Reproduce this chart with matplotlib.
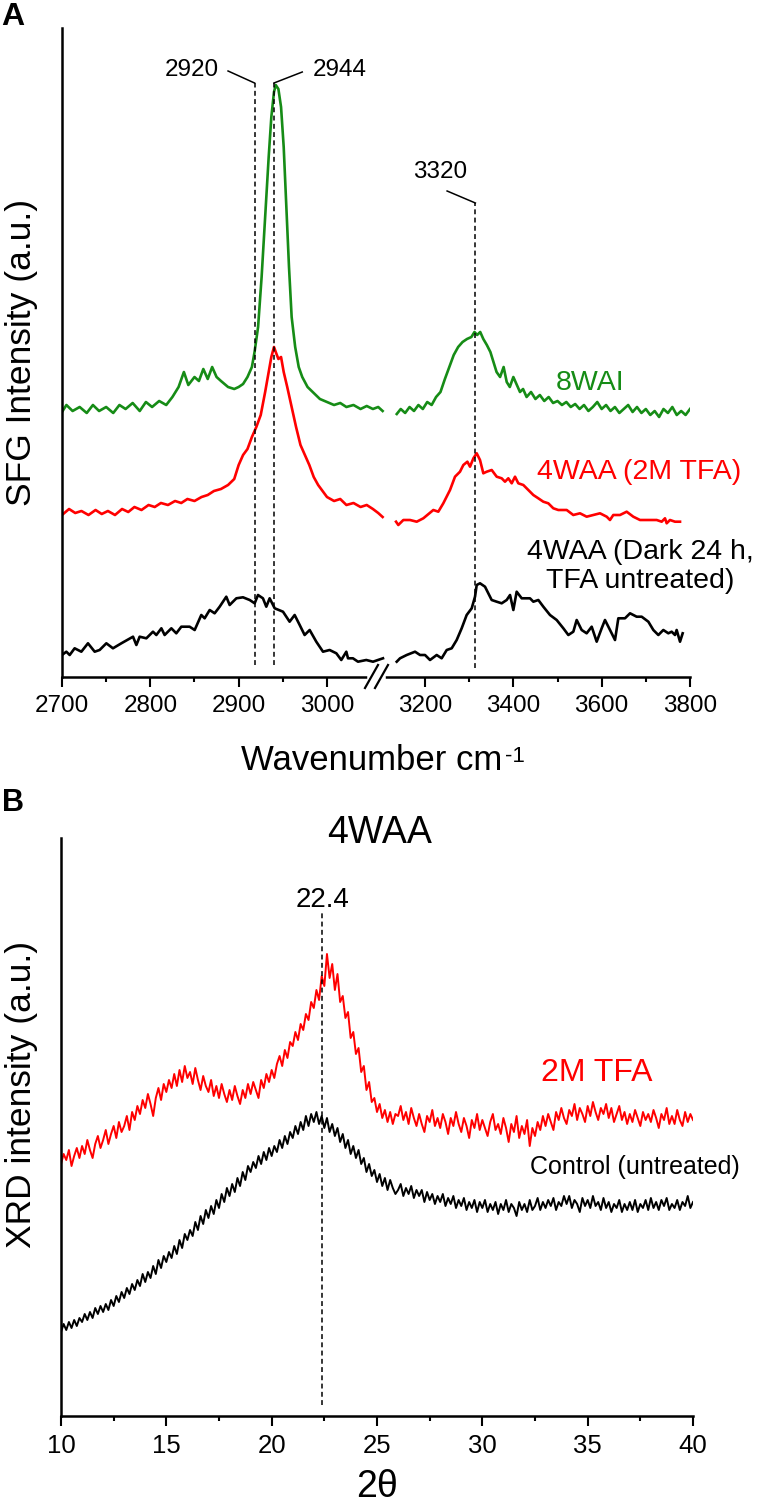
import numpy as np
import matplotlib
matplotlib.use('Agg')
import matplotlib.pyplot as plt
import matplotlib.ticker as mticker
from matplotlib.lines import Line2D

# ---------------- DATA ----------------
# Panel A (SFG): wavenumber / intensity (a.u.), left and right of axis break
green_L_x = [2700,2705,2712,2720,2728,2735,2742,2750,2758,2765,2772,2780,2788,2795,2802,2810,2818,2825,2832,2838,2843,2850,2855,2860,2865,2870,2875,2880,2888,2895,2900,2905,2910,2915,2918,2922,2926,2930,2934,2937,2940,2942,2945,2948,2951,2954,2957,2960,2964,2968,2972,2978,2985,2992,3000,3008,3015,3022,3030,3038,3045,3052,3058,3063]
green_L_y = [265,272,266,270,264,272,266,270,264,272,268,274,266,275,270,276,272,280,290,305,292,300,296,308,298,310,300,296,290,288,290,293,300,310,325,350,400,460,520,560,585,592,588,570,530,470,410,360,330,310,300,290,284,278,275,272,274,270,272,268,271,268,270,266]
green_R_x = [3136,3145,3155,3165,3175,3185,3195,3205,3215,3225,3235,3245,3255,3265,3275,3285,3295,3305,3312,3318,3325,3332,3340,3348,3355,3362,3370,3378,3385,3392,3400,3408,3415,3422,3430,3440,3450,3460,3470,3480,3490,3500,3510,3520,3530,3540,3550,3560,3570,3580,3590,3600,3610,3620,3630,3640,3650,3660,3670,3680,3690,3700,3710,3720,3730,3740,3750,3760,3770,3780,3790,3800]
green_R_y = [263,268,264,270,266,272,268,275,272,280,285,298,310,322,330,335,338,340,345,342,345,338,332,325,315,305,300,310,295,290,300,292,285,288,280,285,278,282,276,280,274,276,272,275,270,273,268,272,266,270,275,268,272,266,270,264,268,272,265,270,264,268,262,266,260,268,264,270,262,266,262,268]

red_L_x = [2700,2708,2715,2722,2730,2738,2745,2752,2760,2768,2775,2782,2790,2798,2805,2812,2820,2828,2835,2842,2850,2858,2865,2872,2880,2888,2895,2900,2905,2910,2915,2920,2925,2930,2934,2937,2940,2942,2945,2948,2951,2955,2960,2965,2970,2975,2980,2985,2990,2995,3000,3008,3015,3022,3030,3038,3045,3052,3058,3063]
red_L_y = [162,168,164,166,162,167,163,166,162,168,165,170,167,172,170,174,172,176,174,178,176,180,182,186,188,192,198,212,222,228,240,250,262,285,305,320,330,325,318,320,305,290,270,250,232,222,212,200,192,186,180,176,178,172,174,170,172,168,164,160]
red_R_x = [3132,3139.5,3150.9,3166,3181.2,3196.2,3218.8,3230.1,3241.4,3256.6,3267.9,3279.2,3286.8,3295.9,3301.9,3309.5,3317,3324.5,3332,3339.7,3351,3362.3,3373.6,3381.1,3388.6,3396.3,3403.8,3411.2,3422.6,3433.9,3445.2,3456.5,3467.8,3479.1,3490.5,3501.8,3520.8,3535.7,3550.9,3566,3581,3596.2,3611.4,3618.8,3626.3,3641.5,3656.6,3671.6,3686.8,3702,3724.6,3735.9,3743.4,3747.2,3754.7,3766,3777.4]
red_R_y = [155.3,152,157,157,155.3,158.7,167,165.3,173.7,187,200.3,205.3,212,215.3,210.3,218.7,223.7,217,203.7,205.3,207,200.3,198.7,195.3,198.7,193.7,200.3,193.7,192,187,182,178.7,175.3,173.7,168.7,167,167,162,163.7,160.3,162,163.7,160.3,157,162,162,165.3,160.3,157,157,157,155.3,158.7,153.7,157,155.3,155.3]

black_L_x = [2700,2704.9,2708.7,2714.3,2721.9,2729.4,2737,2742.6,2750.2,2757.7,2767.2,2780.4,2784.2,2787.9,2795.5,2803,2806.8,2812.5,2816.2,2823.8,2829.4,2835.1,2844.5,2850.2,2857.7,2861.5,2867.2,2872.8,2878.5,2886,2889.8,2897.4,2904.9,2912.5,2918.1,2921.9,2927.5,2931.3,2935.1,2940.8,2950.2,2957.7,2963.4,2969.1,2974.7,2980.4,2987.9,2995.5,3003,3010.6,3016.2,3021.9,3023.8,3029.4,3035.1,3044.5,3052.1,3057.7,3063.4]
black_L_y = [22,25.3,22,28.7,25.3,33.7,25.3,27,33.7,28.7,33.7,40.3,32,40.3,38.7,45.3,42,48.7,42,48.7,43.7,50.3,50.3,47,62,58.7,67,63.7,70.3,80.3,72,78.7,79.7,77,73.7,82,78.7,70.3,78.7,68.7,65.3,55.3,62,52,42,47,35.3,25.3,27,23.7,17,25.3,18.7,18.7,15.3,17,15.3,17,18.7]
black_R_x = [3135.8,3143.4,3158.5,3177.4,3188.7,3200,3211.3,3226.4,3237.7,3249.1,3260.4,3271.7,3283,3294.3,3305.7,3313.2,3317,3324.5,3335.8,3350.9,3362.3,3373.6,3384.9,3392.5,3400,3407.5,3418.9,3437.7,3445.3,3456.6,3467.9,3483,3498.1,3513.2,3524.5,3535.8,3543.4,3554.7,3566,3577.4,3588.7,3600,3607.5,3618.9,3630.2,3637.7,3652.8,3664.2,3679.2,3690.6,3705.7,3717,3728.3,3739.6,3750.9,3758.5,3766,3769.8,3777.4,3783.4]
black_R_y = [15.3,18.7,22,25.3,22,22,17,22,18.7,27,28.7,37,48.7,62,68.7,80.3,92,93.7,90.3,77,75.3,73.7,77,82,67,85.3,78.7,78.7,75.3,77,70.3,62,57,48.7,42,45.3,57,47,43.7,50.3,35.3,48.7,57,47,37,58.7,58.7,63.7,60.3,60.3,55.3,47,42,47,43.7,45.3,42,47,35.3,43.7]

sfg_major = [2700, 2800, 2900, 3000, 3200, 3400, 3600, 3800]
sfg_minor = [2750, 2850, 2950, 3300, 3500, 3700]
sfg_peaks = [2918, 2940, 3314]
sfg_peak_labels = ['2920', '2944', '3320']

# Panel B (XRD), 2theta from 10 to 40 in steps of 0.125
xrd_2theta = np.linspace(10, 40, 241)
xrd_red = [
    252, 262, 256, 266, 250, 260, 268, 258,
    270, 262, 276, 266, 258, 272, 280, 268,
    276, 286, 272, 282, 290, 278, 294, 284,
    290, 300, 286, 304, 296, 310, 302, 316,
    308, 322, 312, 300, 318, 328, 316, 332,
    324, 336, 328, 342, 330, 346, 334, 350,
    338, 344, 332, 348, 336, 326, 340, 330,
    324, 336, 320, 330, 318, 332, 322, 314,
    326, 316, 330, 320, 312, 326, 318, 332,
    322, 334, 326, 318, 336, 328, 342, 334,
    346, 338, 352, 360, 350, 366, 358, 374,
    370, 384, 376, 392, 386, 402, 396, 414,
    408, 426, 416, 440, 430, 462, 438, 452,
    426, 442, 414, 420, 398, 404, 378, 384,
    362, 368, 344, 350, 326, 334, 314, 318,
    304, 312, 298, 306, 294, 304, 292, 302,
    300, 310, 296, 304, 292, 308, 298, 290,
    302, 292, 284, 300, 294, 306, 290, 298,
    288, 302, 294, 282, 298, 290, 304, 292,
    284, 298, 290, 278, 296, 288, 302, 286,
    296, 288, 280, 294, 302, 286, 292, 282,
    298, 288, 274, 292, 284, 300, 278, 290,
    282, 296, 270, 288, 280, 294, 286, 300,
    290, 302, 294, 286, 304, 296, 308, 298,
    292, 306, 300, 312, 296, 308, 302, 294,
    310, 300, 314, 304, 296, 308, 302, 312,
    298, 308, 294, 302, 310, 296, 304, 292,
    302, 294, 306, 298, 290, 304, 296, 302,
    294, 306, 298, 288, 302, 296, 308, 292,
    300, 292, 306, 296, 290, 304, 294, 302,
    296]
xrd_black = [
    84, 92, 86, 94, 88, 96, 90, 98,
    94, 102, 96, 104, 98, 108, 102, 110,
    104, 112, 106, 116, 110, 120, 114, 124,
    118, 128, 122, 132, 126, 136, 130, 142,
    134, 144, 138, 150, 142, 156, 148, 160,
    154, 164, 158, 170, 162, 176, 168, 182,
    176, 186, 180, 194, 186, 200, 192, 206,
    198, 210, 202, 216, 208, 222, 214, 228,
    220, 232, 224, 238, 230, 244, 236, 250,
    244, 254, 248, 260, 252, 264, 256, 268,
    260, 270, 264, 276, 268, 280, 272, 284,
    278, 290, 282, 294, 286, 300, 290, 302,
    294, 304, 292, 300, 288, 298, 284, 292,
    280, 288, 274, 282, 268, 276, 262, 270,
    258, 266, 252, 258, 244, 252, 240, 246,
    234, 242, 230, 238, 226, 236, 228, 222,
    226, 232, 220, 228, 222, 230, 218, 226,
    220, 226, 214, 224, 216, 222, 212, 220,
    214, 222, 210, 218, 212, 220, 208, 216,
    210, 218, 206, 214, 208, 216, 204, 214,
    208, 216, 204, 212, 206, 214, 202, 212,
    206, 216, 204, 212, 208, 200, 214, 206,
    212, 204, 216, 206, 210, 218, 206, 214,
    208, 216, 210, 218, 206, 214, 210, 220,
    212, 220, 208, 216, 212, 204, 218, 210,
    216, 208, 220, 210, 214, 206, 218, 208,
    214, 204, 212, 208, 216, 204, 212, 206,
    214, 206, 216, 204, 212, 208, 216, 206,
    218, 208, 214, 206, 216, 210, 218, 206,
    212, 208, 216, 206, 214, 210, 220, 208,
    214]
xrd_major = [10, 15, 20, 25, 30, 35, 40]
xrd_minor = [12.5, 17.5, 22.5, 27.5, 32.5, 37.5]
xrd_peak = 22.4

# ---------------- STYLE ----------------
plt.rcParams['font.family'] = ['Liberation Sans', 'DejaVu Sans']

W, H = 757, 1508
fig = plt.figure(figsize=(W / 100, H / 100), dpi=100)

def fx(px):
    return px / W

def fy(py):
    return 1 - py / H

GREEN = '#168c16'
RED = '#ff0000'
SPINE_LW = 1.8
TICK_FS = 17.5

BRK_L, BRK_R = 3064.0, 3136.0
DL, DR = BRK_L - 2700.0, 379.0

def fwd(x):
    x = np.asarray(x, dtype=float)
    mid = DL + (x - BRK_L) * (DR - DL) / (BRK_R - BRK_L)
    return np.where(x <= BRK_L, x - 2700.0, np.where(x >= BRK_R, DR + 0.5 * (x - BRK_R), mid))

def inv(d):
    d = np.asarray(d, dtype=float)
    mid = BRK_L + (d - DL) * (BRK_R - BRK_L) / (DR - DL)
    return np.where(d <= DL, d + 2700.0, np.where(d >= DR, BRK_R + 2.0 * (d - DR), mid))

def style_axes(ax, fs):
    for s in ['top', 'right']:
        ax.spines[s].set_visible(False)
    for s in ['left', 'bottom']:
        ax.spines[s].set_linewidth(SPINE_LW)
    ax.set_yticks([])
    ax.tick_params(axis='x', which='major', length=7.2, width=1.5, direction='out',
                   labelsize=fs, pad=5.5)
    ax.tick_params(axis='x', which='minor', length=3.4, width=1.5, direction='out')

# ---------------- PANEL A ----------------
axA = fig.add_axes([fx(62), fy(677), fx(690) - fx(62), fy(28) - fy(677)])
axA.set_xscale('function', functions=(fwd, inv))
axA.set_xlim(2700, 3800)
axA.set_ylim(0, 649)
style_axes(axA, TICK_FS)
axA.set_xticks(sfg_major)
axA.set_xticklabels([str(v) for v in sfg_major])
axA.set_xticks(sfg_minor, minor=True)
axA.xaxis.set_minor_formatter(mticker.NullFormatter())

LW = 1.9
for xs, ys, c in [(green_L_x, green_L_y, GREEN), (green_R_x, green_R_y, GREEN),
                  (red_L_x, red_L_y, RED), (red_R_x, red_R_y, RED),
                  (black_L_x, black_L_y, 'k'), (black_R_x, black_R_y, 'k')]:
    axA.plot(xs, ys, color=c, lw=LW, solid_joinstyle='round')

DASH = (0, (3.2, 2.2))
axA.plot([sfg_peaks[0]] * 2, [12, 594], color='k', lw=1.1, ls=DASH)
axA.plot([sfg_peaks[1]] * 2, [12, 594], color='k', lw=1.1, ls=DASH)
axA.plot([sfg_peaks[2]] * 2, [9, 474], color='k', lw=1.1, ls=DASH)
# leader lines
axA.plot([2888, sfg_peaks[0]], [606, 594], color='k', lw=1.1)
axA.plot([2972, sfg_peaks[1]], [605, 594], color='k', lw=1.1)
axA.plot([3250, sfg_peaks[2]], [486, 474], color='k', lw=1.1)
axA.text(2847, 607, sfg_peak_labels[0], fontsize=TICK_FS, ha='center', va='center')
axA.text(3015, 607, sfg_peak_labels[1], fontsize=TICK_FS, ha='center', va='center')
axA.text(3234, 505, sfg_peak_labels[2], fontsize=TICK_FS, ha='center', va='center')

axA.text(3574, 294, '8WAI', color=GREEN, fontsize=20.5, ha='center', va='center')
axA.text(3684, 205, '4WAA (2M TFA)', color=RED, fontsize=20.5, ha='center', va='center')
axA.text(3687, 110, '4WAA (Dark 24 h,\nTFA untreated)', color='k', fontsize=20.5,
         ha='center', va='center', linespacing=1.15)

# axis break marks
fig.add_artist(Line2D([fx(370), fx(383)], [fy(677), fy(677)], transform=fig.transFigure,
                      color='white', lw=4, zorder=10))
fig.add_artist(Line2D([fx(365), fx(378)], [fy(688), fy(665)], transform=fig.transFigure,
                      color='k', lw=1.6, zorder=11))
fig.add_artist(Line2D([fx(375), fx(388)], [fy(688), fy(665)], transform=fig.transFigure,
                      color='k', lw=1.6, zorder=11))

wl = fig.text(fx(372), fy(760), 'Wavenumber cm', fontsize=25, ha='center', va='center')
fig.add_artist(matplotlib.text.Annotation('-1', xy=(1.0, 0.93), xycoords=wl,
                                          xytext=(1.5, 0), textcoords='offset points',
                                          fontsize=16, ha='left', va='top'))
fig.text(fx(22), fy(352), 'SFG Intensity (a.u.)', fontsize=25.5, rotation=90,
         ha='center', va='center')
fig.text(fx(1), fy(2), 'A', fontsize=23, fontweight='bold', ha='left', va='top')

# ---------------- PANEL B ----------------
axB = fig.add_axes([fx(61), fy(1416), fx(693) - fx(61), fy(838) - fy(1416)])
axB.set_xlim(10, 40)
axB.set_ylim(0, 578)
style_axes(axB, 18.5)
axB.set_xticks(xrd_major)
axB.set_xticklabels([str(v) for v in xrd_major])
axB.set_xticks(xrd_minor, minor=True)
axB.xaxis.set_minor_formatter(mticker.NullFormatter())

axB.plot(xrd_2theta, xrd_red, color=RED, lw=1.4)
axB.plot(xrd_2theta, xrd_black, color='k', lw=1.4)
axB.plot([xrd_peak] * 2, [11, 503], color='k', lw=1.1, ls=DASH)
axB.text(xrd_peak, 516, '22.4', fontsize=20, ha='center', va='center')
axB.text(35.44, 343, '2M TFA', color=RED, fontsize=23, ha='center', va='center')
axB.text(42.2, 249, 'Control (untreated)', color='k', fontsize=18, ha='right', va='center',
         clip_on=False)

fig.text(fx(380), fy(833), '4WAA', fontsize=27, ha='center', va='center')
fig.text(fx(22), fy(1094), 'XRD intensity (a.u.)', fontsize=25.5, rotation=90,
         ha='center', va='center')
fig.text(fx(377), fy(1487), '2θ', fontsize=27, ha='center', va='center')
fig.text(fx(2), fy(788), 'B', fontsize=22, fontweight='bold', ha='left', va='top')

fig.savefig('out.png', dpi=100)
